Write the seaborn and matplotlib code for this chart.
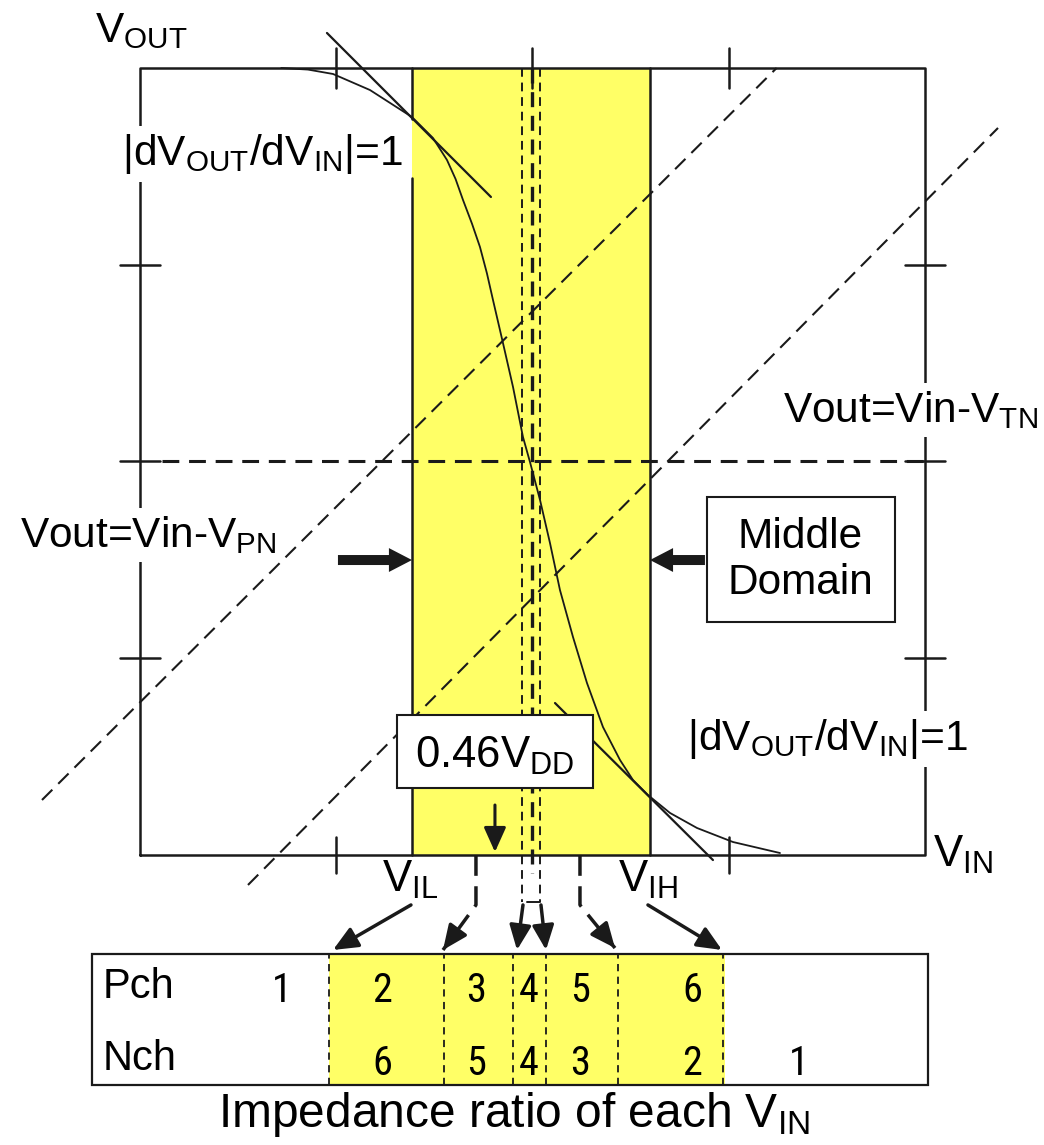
"""
CMOS inverter transfer curve with the middle domain and impedance ratio table
"""

import numpy as np
import pandas as pd
import matplotlib
matplotlib.use("Agg")
import matplotlib.pyplot as plt
from matplotlib.patches import Rectangle
import seaborn as sns

# transfer curve (units of VDD)
vin = [0.180, 0.214, 0.2459, 0.2930, 0.3465, 0.3732, 0.3911, 0.4020, 0.4115, 0.4230,
       0.4331, 0.4420, 0.4497, 0.4624, 0.4752, 0.4879, 0.4968, 0.5096, 0.5223, 0.5350,
       0.5516, 0.5694, 0.5898, 0.6115, 0.6280, 0.6471, 0.6752, 0.7096, 0.7554, 0.8153]
vout = [1.000, 0.998, 0.9924, 0.9720, 0.9377, 0.9111, 0.8831, 0.8590, 0.8323, 0.8020,
        0.7726, 0.7390, 0.7052, 0.6506, 0.5947, 0.5311, 0.4994, 0.4511, 0.3964, 0.3367,
        0.2770, 0.2186, 0.1626, 0.1207, 0.0953, 0.0762, 0.0534, 0.0343, 0.0165, 0.0025]

# |dVout/dVin| = 1 tangents
tan_hi_in, tan_hi_out = [0.2382, 0.4471], [1.0445, 0.8361]
tan_lo_in, tan_lo_out = [0.5287, 0.7299], [0.1931, -0.0064]

# Vout = Vin - V_TN and Vout = Vin - V_PN
vtn_in, vtn_out = [0.1376, 1.0930], [-0.0381, 0.9238]
vpn_in, vpn_out = [-0.1248, 0.811], [0.0699, 1.0]

v_il, v_ih = 0.3465, 0.6497
v_mid = [0.4866, 0.4994, 0.5096]
ticks = [0.25, 0.5, 0.75]

# impedance ratio table
cell_edges = [0.2408, 0.3873, 0.4752, 0.5172, 0.6089, 0.7427]
pch_ratio = ["1", "2", "3", "4", "5", "6", ""]
nch_ratio = ["", "6", "5", "4", "3", "2", "1"]
col_x = [0.1809, 0.3083, 0.4280, 0.4955, 0.5610, 0.7032, 0.8395]

YELLOW = "#FFFF66"

sns.set_theme(style="white", rc={"text.color": "black"})
plt.rcParams["font.family"] = ["Liberation Sans", "DejaVu Sans"]
plt.rcParams["mathtext.default"] = "regular"

fig = plt.figure(figsize=(10.44, 11.45), dpi=100)
ax = fig.add_axes([0, 0, 1, 1])

# middle domain band
ax.fill_between([v_il, v_ih], 0, 1, color=YELLOW, lw=0, zorder=0)
ax.plot([v_il, v_il], [0, 0.860], color="k", lw=1.8, zorder=2)
ax.plot([v_il, v_il], [0.935, 1], color="k", lw=1.8, zorder=2)
ax.plot([v_ih, v_ih], [0, 1], color="k", lw=1.8, zorder=2)

# frame and ticks
ax.plot([0, 1, 1, 0, 0], [0, 0, 1, 1, 0], color="k", lw=1.8, zorder=2)
for t in ticks:
    ax.plot([t, t], [0.975, 1.025], color="k", lw=1.8)
    ax.plot([-0.026, 0.026], [t, t], color="k", lw=1.8)
    ax.plot([0.974, 1.026], [t, t], color="k", lw=1.8)
for t in [0.25, 0.75]:
    ax.plot([t, t], [-0.023, 0.023], color="k", lw=1.8)

# dashed guides
ax.plot([0.028, 1.0], [0.5, 0.5], color="k", lw=2.2, dashes=(5.5, 3.2))
ax.plot(vtn_in, vtn_out, color="k", lw=1.5, dashes=(7, 4))
ax.plot(vpn_in, vpn_out, color="k", lw=1.5, dashes=(7, 4))
ax.plot([v_mid[0]] * 2, [1, -0.0597], color="k", lw=1.4, dashes=(4.5, 3))
ax.plot([v_mid[2]] * 2, [1, -0.0597], color="k", lw=1.4, dashes=(4.5, 3))
ax.plot([v_mid[1]] * 2, [1, -0.023], color="k", lw=2.4, dashes=(4.5, 2.6))
ax.plot([0.4930, v_mid[2]], [-0.0597, -0.0597], color="k", lw=1.4)

# transfer curve and tangents
curve = pd.DataFrame({"Vin": vin, "Vout": vout})
sns.lineplot(data=curve, x="Vin", y="Vout", ax=ax, color="k", lw=1.3,
             sort=False, estimator=None, zorder=3)
ax.plot(tan_hi_in, tan_hi_out, color="k", lw=1.6, zorder=3)
ax.plot(tan_lo_in, tan_lo_out, color="k", lw=1.6, zorder=3)

mask = dict(facecolor="white", edgecolor="none", boxstyle="square,pad=0.15")
fs = 30.5

ax.text(-0.0573, 1.033, "V$_{OUT}$", fontsize=fs, ha="left", va="baseline")
ax.text(-0.0229, 0.8767, "|dV$_{OUT}$/dV$_{IN}$|=1", fontsize=fs,
        ha="left", va="baseline", bbox=mask, zorder=6)
ax.text(0.8191, 0.5502, "Vout=Vin-V$_{TN}$", fontsize=fs,
        ha="left", va="baseline", bbox=mask, zorder=6)
ax.text(-0.1529, 0.3914, "Vout=Vin-V$_{PN}$", fontsize=fs,
        ha="left", va="baseline", bbox=mask, zorder=6)
ax.text(0.6968, 0.1334, "|dV$_{OUT}$/dV$_{IN}$|=1", fontsize=fs,
        ha="left", va="baseline", bbox=mask, zorder=6)
ax.text(1.0102, -0.0152, "V$_{IN}$", fontsize=fs + 1, ha="left", va="baseline")
ax.text(0.3083, -0.0470, "V$_{IL}$", fontsize=fs + 1, ha="left", va="baseline")
ax.text(0.6089, -0.0470, "V$_{IH}$", fontsize=fs + 1, ha="left", va="baseline")

# middle domain label and arrows
ax.add_patch(Rectangle((0.7223, 0.2961), 0.2395, 0.1588, fc="white", ec="k", lw=1.5, zorder=6))
ax.text(0.8408, 0.3748, "Middle\nDomain", fontsize=fs, ha="center", va="center",
        linespacing=1.2, zorder=7)
big = dict(arrowstyle="simple,head_length=0.83,head_width=0.86,tail_width=0.36",
           mutation_scale=20, color="k", lw=0, shrinkA=0, shrinkB=0)
ax.annotate("", xy=(v_il, 0.3748), xytext=(0.2522, 0.3748), arrowprops=big)
ax.annotate("", xy=(v_ih, 0.3748), xytext=(0.7197, 0.3748), arrowprops=big)

# 0.46 VDD box
ax.add_patch(Rectangle((0.3274, 0.0851), 0.2497, 0.0928, fc="white", ec="k", lw=1.5, zorder=6))
ax.text(0.4522, 0.1105, "0.46V$_{DD}$", fontsize=fs + 1, ha="center", va="baseline", zorder=7)
ax.annotate("", xy=(0.4522, 0.0038), xytext=(0.4522, 0.0635),
            arrowprops=dict(arrowstyle="-|>,head_length=0.6,head_width=0.27",
                            mutation_scale=25, color="k", lw=2.2, shrinkA=0, shrinkB=0))

# pointers to the table
ptr = dict(arrowstyle="-|>,head_length=0.5,head_width=0.22", mutation_scale=30,
           color="k", lw=2.5, shrinkA=0, shrinkB=0)
solid_ptrs = [((0.3452, -0.0635), (0.2459, -0.1207)),
              ((0.4879, -0.0635), (0.4803, -0.1207)),
              ((0.5108, -0.0635), (0.5172, -0.1207)),
              ((0.6471, -0.0635), (0.7414, -0.1207))]
for start, end in solid_ptrs:
    ax.annotate("", xy=end, xytext=start, arrowprops=ptr)

dashed_ptrs = [(0.4280, (0.3860, -0.1207)), (0.5605, (0.6051, -0.1182))]
for x0, end in dashed_ptrs:
    ax.plot([x0, x0, end[0]], [0, -0.0635, end[1]], color="k", lw=2.5, dashes=(6, 3))
    mid = (x0 + 0.55 * (end[0] - x0), -0.0635 + 0.55 * (end[1] + 0.0635))
    ax.annotate("", xy=end, xytext=mid, arrowprops=ptr)

# table
tbl_top, tbl_bot = -0.1258, -0.2922
ax.fill_between([cell_edges[0], 0.7452], tbl_bot, tbl_top, color=YELLOW, lw=0, zorder=0)
ax.add_patch(Rectangle((-0.0611, tbl_bot), 1.0649, tbl_top - tbl_bot,
                       fill=False, ec="k", lw=1.6, zorder=3))
ax.vlines(cell_edges, tbl_bot, tbl_top, colors="k", lw=1.3, linestyles=(0, (4, 3)))
ax.text(-0.0471, -0.1817, "Pch", fontsize=30, ha="left", va="baseline")
ax.text(-0.0471, -0.2732, "Nch", fontsize=30, ha="left", va="baseline")
narrow = ["Roboto Condensed", "DejaVu Sans"]
for x, p, n in zip(col_x, pch_ratio, nch_ratio):
    ax.text(x, -0.1868, p, fontsize=29, ha="center", va="baseline", family=narrow)
    ax.text(x, -0.2795, n, fontsize=29, ha="center", va="baseline", family=narrow)
ax.text(0.0994, -0.3456, "Impedance ratio of each V$_{IN}$", fontsize=34.5,
        ha="left", va="baseline")

ax.set_xlim(-0.1783, 1.1516)
ax.set_ylim(-0.3685, 1.0864)
ax.axis("off")

plt.savefig("out.png", dpi=100)
